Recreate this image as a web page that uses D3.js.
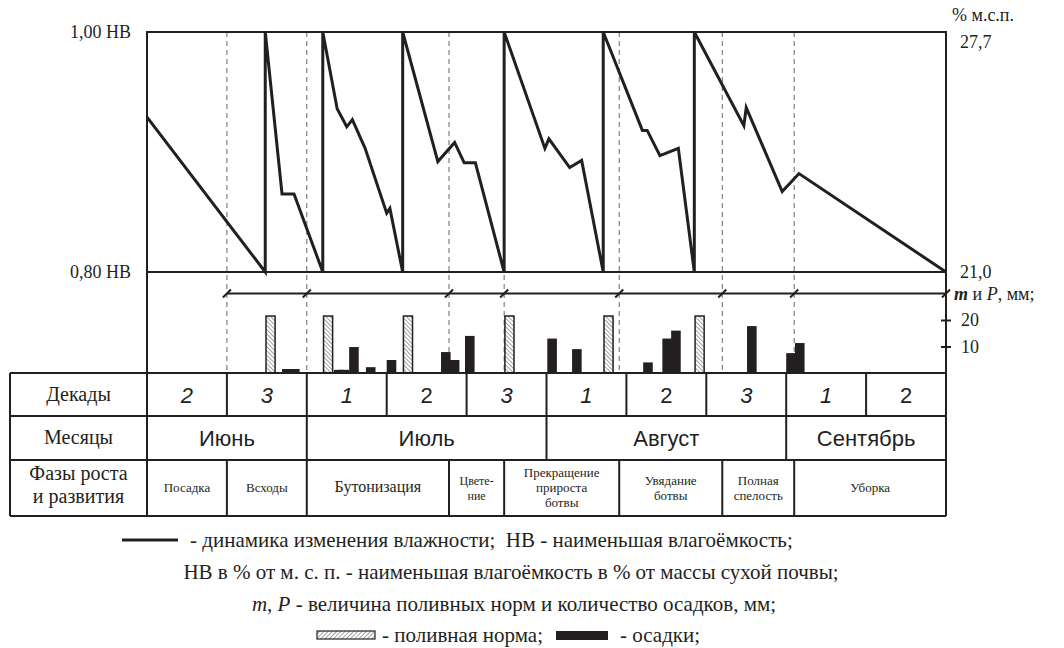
<!DOCTYPE html>
<html>
<head>
<meta charset="utf-8">
<script src="https://cdn.jsdelivr.net/npm/d3@7"></script>
<style>
  body { margin: 0; background: #fff; }
</style>
</head>
<body>
<svg id="chart" width="1064" height="648"></svg>
<script>
// ---- data (days counted from the start of the 2nd decade of June, 10 days per decade) ----
const moistureDay   = [0, 14.8, 14.8, 16.9, 18.4, 22.0, 22.0, 23.8, 25.0, 25.7, 27.3, 30.0, 30.4, 32.0,
                       32.0, 36.4, 38.5, 39.7, 41.1, 44.7, 44.7, 49.8, 50.3, 52.9, 54.4, 57.1,
                       57.1, 62.0, 62.6, 64.2, 66.5, 68.5, 68.5, 74.7, 75.0, 79.5, 81.6, 100];
const moistureValue = [0.929, 0.80, 1.00, 0.865, 0.865, 0.80, 1.00, 0.936, 0.921, 0.927, 0.903, 0.849, 0.853, 0.80,
                       1.00, 0.892, 0.908, 0.891, 0.891, 0.80, 1.00, 0.903, 0.911, 0.887, 0.893, 0.80,
                       1.00, 0.918, 0.918, 0.897, 0.903, 0.80, 1.00, 0.922, 0.937, 0.867, 0.882, 0.80];

const irrigationDay = [14.8, 22.0, 32.0, 44.7, 57.1, 68.5];
const irrigationMm  = [21.5, 21.5, 21.5, 21.5, 21.5, 21.5];

const rainDay = [16.9, 17.9, 23.4, 24.1, 25.3, 27.4, 30.0, 36.8, 37.9, 39.8, 50.1, 53.2, 62.1, 64.5, 65.6, 75.1, 80.0, 81.1];
const rainMm  = [1.5, 1.5, 1.2, 1.2, 9.8, 2.2, 4.9, 7.9, 4.9, 14.0, 13.0, 9.0, 4.0, 13.0, 16.0, 17.7, 7.5, 11.3];

const phaseBounds = [0, 10, 20, 37.8, 44.7, 59.1, 72, 81, 100];
const phaseNames  = ["Посадка", "Всходы", "Бутонизация", "Цвете-|ние", "Прекращение|прироста|ботвы",
                     "Увядание|ботвы", "Полная|спелость", "Уборка"];

const decadeLabels = ["2", "3", "1", "2", "3", "1", "2", "3", "1", "2"];
const monthNames   = ["Июнь", "Июль", "Август", "Сентябрь"];
const monthDecades = [2, 3, 3, 2];

const moistureTicks = [0.80, 1.00];
const pctTicks      = [21.0, 27.7];
const mmTicks       = [10, 20];

// ---- layout ----
const ink = "#231f20";
const fontSerif = "Liberation Serif";
const fontSans  = "Liberation Sans";

const svg = d3.select("#chart");

const x   = d3.scaleLinear().domain([0, 100]).range([147, 946]);
const yM  = d3.scaleLinear().domain([0.80, 1.00]).range([272, 32]);
const yP  = d3.scaleLinear().domain([21.0, 27.7]).range([272, 32]);
const yB  = d3.scaleLinear().domain([0, 20]).range([373, 320]);

const tableTop = 373, row1 = 416, row2 = 460, tableBottom = 516, tableLeft = 10;

function label(sel, px, py, str, size, anchor, family) {
  return sel.append("text")
    .attr("x", px).attr("y", py)
    .attr("font-family", family || fontSerif)
    .attr("font-size", size)
    .attr("fill", ink)
    .attr("text-anchor", anchor || "start")
    .text(str);
}

const defs = svg.append("defs");
defs.append("pattern")
  .attr("id", "hatch")
  .attr("patternUnits", "userSpaceOnUse")
  .attr("width", 3).attr("height", 3)
  .attr("patternTransform", "rotate(-45)")
  .append("line")
  .attr("x1", 0).attr("y1", 0).attr("x2", 0).attr("y2", 3)
  .attr("stroke", "#444").attr("stroke-width", 1);
defs.append("pattern")
  .attr("id", "hatch2")
  .attr("patternUnits", "userSpaceOnUse")
  .attr("width", 3).attr("height", 3)
  .attr("patternTransform", "rotate(45)")
  .append("line")
  .attr("x1", 0).attr("y1", 0).attr("x2", 0).attr("y2", 3)
  .attr("stroke", "#444").attr("stroke-width", 1);

// dashed phase lines
svg.selectAll(".phase-dash")
  .data(phaseBounds.slice(1, -1))
  .join("line")
  .attr("class", "phase-dash")
  .attr("x1", d => x(d)).attr("x2", d => x(d))
  .attr("y1", yM(1.0)).attr("y2", tableTop)
  .attr("stroke", "#666").attr("stroke-width", 1)
  .attr("stroke-dasharray", "5,4");

// plot box
svg.append("rect")
  .attr("x", x(0)).attr("y", yM(1.0))
  .attr("width", x(100) - x(0)).attr("height", yM(0.8) - yM(1.0))
  .attr("fill", "none").attr("stroke", ink).attr("stroke-width", 2);
svg.append("line")
  .attr("x1", x(0)).attr("x2", x(0)).attr("y1", yM(0.8)).attr("y2", tableTop)
  .attr("stroke", ink).attr("stroke-width", 2);
svg.append("line")
  .attr("x1", x(100)).attr("x2", x(100)).attr("y1", yM(0.8)).attr("y2", tableTop)
  .attr("stroke", ink).attr("stroke-width", 2);

// left axis (НВ)
svg.append("g")
  .attr("transform", `translate(${x(0)},0)`)
  .call(d3.axisLeft(yM).tickValues(moistureTicks).tickSize(0).tickPadding(16)
    .tickFormat(d => d3.format(".2f")(d).replace(".", ",") + " НВ"))
  .call(g => g.select(".domain").remove())
  .selectAll("text")
  .attr("font-family", fontSerif).attr("font-size", 18).attr("fill", ink);

// right axis (% м.с.п.)
svg.append("g")
  .attr("transform", `translate(${x(100)},0)`)
  .call(d3.axisRight(yP).tickValues(pctTicks).tickSize(0).tickPadding(14)
    .tickFormat(d => d3.format(".1f")(d).replace(".", ",")))
  .call(g => g.select(".domain").remove())
  .selectAll("text")
  .attr("font-family", fontSerif).attr("font-size", 18).attr("fill", ink)
  .attr("dy", d => d > 27 ? "0.85em" : "0.32em");

label(svg, 952, 21, "% м.с.п.", 18);

// moisture line
const moist = moistureDay.map((d, i) => ({day: d, v: moistureValue[i]}));
svg.append("path")
  .datum(moist)
  .attr("fill", "none")
  .attr("stroke", ink)
  .attr("stroke-width", 3)
  .attr("stroke-linejoin", "miter")
  .attr("d", d3.line().x(d => x(d.day)).y(d => yM(d.v)));

// m и P line with slashes
const mLineY = yB(30);
svg.append("line")
  .attr("x1", x(phaseBounds[1])).attr("x2", x(100))
  .attr("y1", mLineY).attr("y2", mLineY)
  .attr("stroke", ink).attr("stroke-width", 1.8);
svg.selectAll(".slash")
  .data(phaseBounds.slice(1))
  .join("line")
  .attr("class", "slash")
  .attr("x1", d => x(d) - 4).attr("x2", d => x(d) + 4)
  .attr("y1", mLineY + 4).attr("y2", mLineY - 4)
  .attr("stroke", ink).attr("stroke-width", 2);

const mLabel = label(svg, 954, mLineY + 6, null, 18);
mLabel.append("tspan").attr("font-style", "italic").attr("font-weight", "bold").text("m");
mLabel.append("tspan").text(" и ");
mLabel.append("tspan").attr("font-style", "italic").text("P");
mLabel.append("tspan").text(", мм;");

// mm axis
svg.append("g")
  .attr("transform", `translate(${x(100)},0)`)
  .call(d3.axisRight(yB).tickValues(mmTicks).tickSize(5).tickPadding(10))
  .call(g => g.select(".domain").remove())
  .call(g => g.selectAll(".tick line").attr("x1", -5).attr("stroke", ink).attr("stroke-width", 2))
  .selectAll("text")
  .attr("font-family", fontSerif).attr("font-size", 18).attr("fill", ink);

// bars
const barW = 1.2;
svg.selectAll(".irr")
  .data(irrigationDay.map((d, i) => ({day: d, mm: irrigationMm[i]})))
  .join("rect")
  .attr("class", "irr")
  .attr("x", d => x(d.day) + 0.75)
  .attr("y", d => yB(d.mm))
  .attr("width", x(barW) - x(0) - 0.5)
  .attr("height", d => yB(0) - yB(d.mm))
  .attr("fill", "url(#hatch)")
  .attr("stroke", ink).attr("stroke-width", 1.5);

svg.selectAll(".rain")
  .data(rainDay.map((d, i) => ({day: d, mm: rainMm[i]})))
  .join("rect")
  .attr("class", "rain")
  .attr("x", d => x(d.day))
  .attr("y", d => yB(d.mm))
  .attr("width", x(barW) - x(0))
  .attr("height", d => yB(0) - yB(d.mm))
  .attr("fill", ink);

// ---- table ----
const tbl = svg.append("g").attr("stroke", ink).attr("stroke-width", 2);
[tableTop, row1, row2, tableBottom].forEach(yy =>
  tbl.append("line").attr("x1", tableLeft).attr("x2", x(100)).attr("y1", yy).attr("y2", yy));
tbl.append("line").attr("x1", tableLeft).attr("x2", tableLeft).attr("y1", tableTop).attr("y2", tableBottom);
tbl.append("line").attr("x1", x(0)).attr("x2", x(0)).attr("y1", tableTop).attr("y2", tableBottom);
tbl.append("line").attr("x1", x(100)).attr("x2", x(100)).attr("y1", tableTop).attr("y2", tableBottom);

const decBounds = d3.range(0, 101, 10);
tbl.selectAll(".dec-div").data(decBounds.slice(1, -1)).join("line")
  .attr("x1", d => x(d)).attr("x2", d => x(d)).attr("y1", tableTop).attr("y2", row1);

const monthBounds = [0];
monthDecades.forEach(n => monthBounds.push(monthBounds[monthBounds.length - 1] + n * 10));
tbl.selectAll(".mon-div").data(monthBounds.slice(1, -1)).join("line")
  .attr("x1", d => x(d)).attr("x2", d => x(d)).attr("y1", row1).attr("y2", row2);

tbl.selectAll(".ph-div").data(phaseBounds.slice(1, -1)).join("line")
  .attr("x1", d => x(d)).attr("x2", d => x(d)).attr("y1", row2).attr("y2", tableBottom);

// header column
const headX = (tableLeft + x(0)) / 2;
label(svg, headX, (tableTop + row1) / 2 + 6, "Декады", 20, "middle");
label(svg, headX, (row1 + row2) / 2 + 6, "Месяцы", 20, "middle");
label(svg, headX, row2 + 20, "Фазы роста", 20, "middle");
label(svg, headX, row2 + 43, "и развития", 20, "middle");

// decades
svg.selectAll(".dec-lab").data(decadeLabels).join("text")
  .attr("class", "dec-lab")
  .attr("x", (d, i) => x(i * 10 + 5))
  .attr("y", (tableTop + row1) / 2 + 8)
  .attr("text-anchor", "middle")
  .attr("font-family", fontSans).attr("font-size", 22).attr("fill", ink)
  .attr("font-style", (d, i) => (d === "2" && i > 0) ? "normal" : "italic")
  .text(d => d);

// months
svg.selectAll(".mon-lab").data(monthNames).join("text")
  .attr("class", "mon-lab")
  .attr("x", (d, i) => (x(monthBounds[i]) + x(monthBounds[i + 1])) / 2)
  .attr("y", (row1 + row2) / 2 + 8)
  .attr("text-anchor", "middle")
  .attr("font-family", fontSans).attr("font-size", 22).attr("fill", ink)
  .text(d => d);

// phases
const bigPhase = {"Бутонизация": 16};
svg.selectAll(".ph-lab").data(phaseNames).join("text")
  .attr("class", "ph-lab")
  .attr("text-anchor", "middle")
  .attr("font-family", fontSerif).attr("fill", ink)
  .attr("font-size", d => bigPhase[d] || (d.startsWith("Цвете") ? 12 : 13))
  .each(function (d, i) {
    const lines = d.split("|");
    const cx = (x(phaseBounds[i]) + x(phaseBounds[i + 1])) / 2;
    const lh = 15;
    const cy = (row2 + tableBottom) / 2 - (lines.length - 1) * lh / 2 + 4;
    d3.select(this).selectAll("tspan").data(lines).join("tspan")
      .attr("x", cx)
      .attr("y", (l, j) => cy + j * lh)
      .text(l => l);
  });

// ---- legend ----
const legendSize = 21;
svg.append("line").attr("x1", 122).attr("x2", 178).attr("y1", 540).attr("y2", 540)
  .attr("stroke", ink).attr("stroke-width", 3);
label(svg, 190, 547, "- динамика изменения влажности;  НВ - наименьшая влагоёмкость;", legendSize)
  .attr("xml:space", "preserve");
label(svg, 511, 579, "НВ в % от м. с. п. - наименьшая влагоёмкость в % от массы сухой почвы;", legendSize, "middle");
const l3 = label(svg, 514, 611, null, legendSize, "middle");
l3.append("tspan").attr("font-style", "italic").text("m");
l3.append("tspan").text(", ");
l3.append("tspan").attr("font-style", "italic").text("P");
l3.append("tspan").text(" - величина поливных норм и количество осадков, мм;");

svg.append("rect").attr("x", 317).attr("y", 631).attr("width", 58).attr("height", 8)
  .attr("fill", "url(#hatch2)").attr("stroke", ink).attr("stroke-width", 1.2);
label(svg, 382, 642, "- поливная норма;", legendSize);
svg.append("rect").attr("x", 556).attr("y", 631).attr("width", 52).attr("height", 9)
  .attr("fill", ink);
label(svg, 620, 642, "- осадки;", legendSize);
</script>
</body>
</html>
